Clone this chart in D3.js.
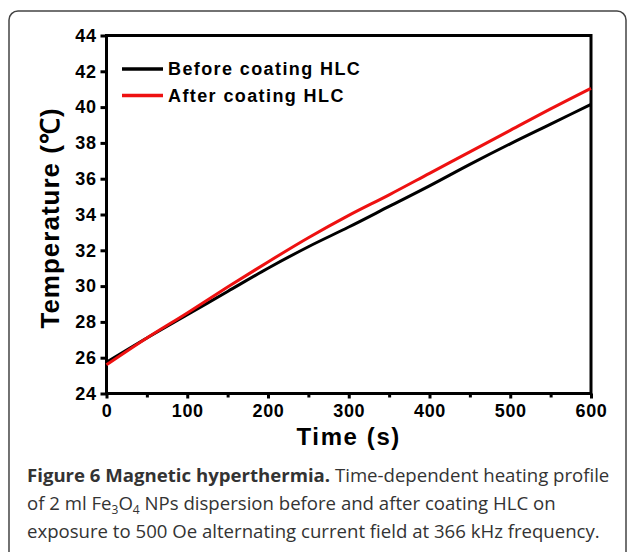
<!DOCTYPE html>
<html>
<head>
<meta charset="utf-8">
<script src="https://cdn.jsdelivr.net/npm/d3@7"></script>
<style>
  body { margin: 0; background: #fff; }
  svg { display: block; }
</style>
</head>
<body>
<div id="container"></div>
<script>
const width = 629;
const height = 552;

// ------------------ DATA ------------------ //
const times = [0, 50, 100, 150, 200, 250, 300, 350, 400, 450, 500, 550, 600];
const beforeTemps = [25.75, 27.1, 28.4, 29.7, 31.0, 32.2, 33.3, 34.45, 35.6, 36.8, 37.95, 39.05, 40.15];
const afterTemps = [25.6, 27.1, 28.5, 29.95, 31.35, 32.7, 33.95, 35.1, 36.3, 37.5, 38.7, 39.9, 41.05];
const seriesNames = ["Before coating HLC", "After coating HLC"];
const seriesColors = ["#000000", "#ee1111"];
const xTicks = [0, 100, 200, 300, 400, 500, 600];
const xMinorTicks = [50, 150, 250, 350, 450, 550];
const yTicks = [24, 26, 28, 30, 32, 34, 36, 38, 40, 42, 44];

const plot = { left: 106.5, right: 591, top: 35.5, bottom: 393.5 };

const svg = d3.select("#container").append("svg")
  .attr("width", width)
  .attr("height", height);

// panel border (rounded top, open at bottom)
svg.append("rect")
  .attr("x", 9).attr("y", 11)
  .attr("width", 617).attr("height", 580)
  .attr("rx", 9)
  .style("fill", "none")
  .style("stroke", "#444")
  .style("stroke-width", 1.5);

// ------------------ SCALES ------------------ //
const x = d3.scaleLinear().domain([0, 600]).range([plot.left, plot.right]);
const y = d3.scaleLinear().domain([24, 44]).range([plot.bottom, plot.top]);

const tickFont = "'Liberation Sans', Arial, sans-serif";

// ------------------ AXES ------------------ //
const xAxis = svg.append("g")
  .attr("transform", "translate(0," + plot.bottom + ")")
  .call(d3.axisBottom(x).tickValues(xTicks).tickSize(5).tickPadding(6).tickFormat(d3.format("d")));
const xMinor = svg.append("g")
  .attr("transform", "translate(0," + plot.bottom + ")")
  .call(d3.axisBottom(x).tickValues(xMinorTicks).tickSize(4).tickFormat(""));
const yAxis = svg.append("g")
  .attr("transform", "translate(" + plot.left + ",0)")
  .call(d3.axisLeft(y).tickValues(yTicks).tickSize(6).tickPadding(4));

[xAxis, xMinor, yAxis].forEach(function(g) {
  g.select(".domain").remove();
  g.selectAll("line").style("stroke", "#000").style("stroke-width", 3);
  g.selectAll("text")
    .style("font-family", tickFont)
    .style("font-weight", "bold")
    .style("font-size", "18px")
    .style("letter-spacing", "0.6px")
    .style("fill", "#000");
});

// frame
svg.append("rect")
  .attr("x", plot.left).attr("y", plot.top)
  .attr("width", plot.right - plot.left)
  .attr("height", plot.bottom - plot.top)
  .style("fill", "none")
  .style("stroke", "#000")
  .style("stroke-width", 3);

// ------------------ LINES ------------------ //
const slices = [
  { id: seriesNames[0], color: seriesColors[0], values: times.map(function(t, i) { return { t: t, v: beforeTemps[i] }; }) },
  { id: seriesNames[1], color: seriesColors[1], values: times.map(function(t, i) { return { t: t, v: afterTemps[i] }; }) }
];

const line = d3.line()
  .curve(d3.curveMonotoneX)
  .x(function(d) { return x(d.t); })
  .y(function(d) { return y(d.v); });

svg.selectAll("path.series")
  .data(slices)
  .enter()
  .append("path")
  .attr("class", "series")
  .style("fill", "none")
  .style("stroke", function(d) { return d.color; })
  .style("stroke-width", 3)
  .attr("d", function(d) { return line(d.values); });

// ------------------ LEGEND ------------------ //
const legend = svg.selectAll("g.legend")
  .data(slices)
  .enter()
  .append("g")
  .attr("class", "legend")
  .attr("transform", function(d, i) { return "translate(122," + (69 + i * 26.5) + ")"; });

legend.append("line")
  .attr("x1", 0).attr("x2", 41)
  .style("stroke", function(d) { return d.color; })
  .style("stroke-width", 3.5);

legend.append("text")
  .attr("x", 46)
  .attr("dy", "0.36em")
  .style("font-family", tickFont)
  .style("font-weight", "bold")
  .style("font-size", "18px")
  .style("letter-spacing", "1.4px")
  .text(function(d) { return d.id; });

// ------------------ AXIS TITLES ------------------ //
svg.append("text")
  .attr("x", (plot.left + plot.right) / 2)
  .attr("y", 445)
  .attr("text-anchor", "middle")
  .style("font-family", tickFont)
  .style("font-weight", "bold")
  .style("font-size", "24px")
  .style("letter-spacing", "1.6px")
  .text("Time (s)");

svg.append("text")
  .attr("transform", "translate(59,218) rotate(-90)")
  .attr("text-anchor", "middle")
  .style("font-family", tickFont)
  .style("font-weight", "bold")
  .style("font-size", "26px")
  .style("letter-spacing", "1px")
  .text("Temperature (\u2103)");

// ------------------ CAPTION ------------------ //
const capFont = "'Open Sans', sans-serif";
const cap = svg.append("g")
  .style("font-family", capFont)
  .style("font-size", "18.6px")
  .style("fill", "#333");

const l1 = cap.append("text").attr("x", 27).attr("y", 482);
l1.append("tspan").style("font-weight", "bold").text("Figure 6 Magnetic hyperthermia.");
l1.append("tspan").text(" Time-dependent heating profile");

const l2 = cap.append("text").attr("x", 27).attr("y", 510);
l2.append("tspan").text("of 2 ml Fe");
l2.append("tspan").attr("dy", 4).style("font-size", "12px").text("3");
l2.append("tspan").attr("dy", -4).text("O");
l2.append("tspan").attr("dy", 4).style("font-size", "12px").text("4");
l2.append("tspan").attr("dy", -4).text(" NPs dispersion before and after coating HLC on");

cap.append("text").attr("x", 27).attr("y", 538)
  .text("exposure to 500 Oe alternating current field at 366 kHz frequency.");
</script>
</body>
</html>
